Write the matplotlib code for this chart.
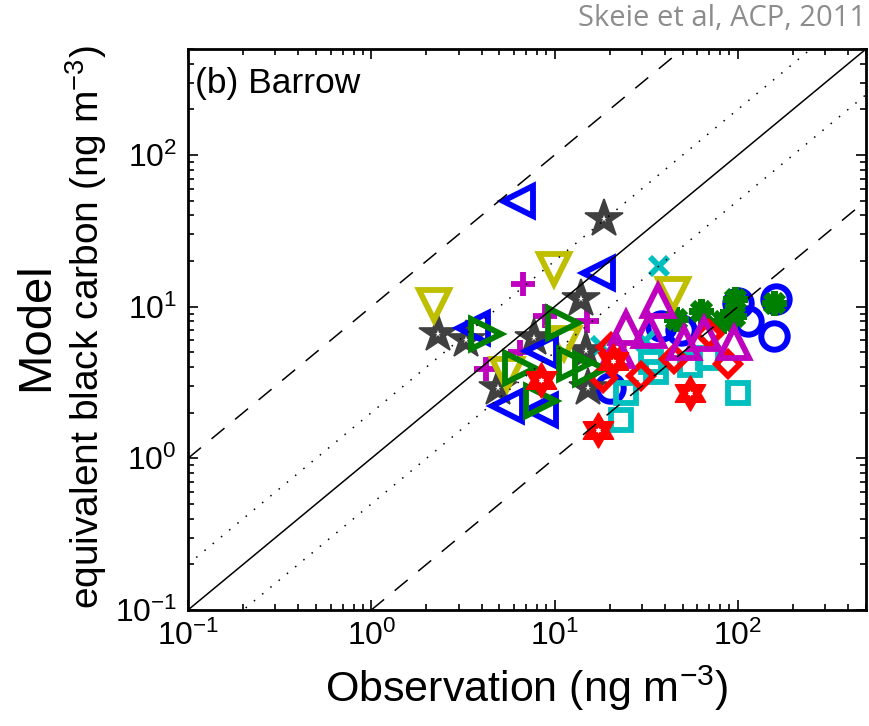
import numpy as np
import matplotlib
matplotlib.use("Agg")
import matplotlib.pyplot as plt
from matplotlib.path import Path
from matplotlib.ticker import LogLocator, NullFormatter

plt.rcParams['font.family'] = ['Liberation Sans', 'DejaVu Sans']
plt.rcParams['mathtext.fontset'] = 'custom'
plt.rcParams['mathtext.rm'] = 'Liberation Sans'
plt.rcParams['mathtext.it'] = 'Liberation Sans:italic'
plt.rcParams['mathtext.default'] = 'regular'

# ---- data (observation, model) per series ----
circ_obs = [20, 38, 49, 100, 113, 161, 157]
circ_mod = [2.9, 7.5, 7.0, 10.6, 8.1, 11.3, 6.4]

ast_obs = [46, 63, 83, 97, 95, 157]
ast_mod = [8.3, 9.4, 8.1, 11.3, 8.7, 10.5]

x_obs = [37, 18, 31]
x_mod = [18.6, 5.5, 5.9]

plus_obs = [6.7, 8.9, 15.1, 6.5, 4.2]
plus_mod = [14.2, 8.7, 8.1, 5.0, 3.9]

pent_obs = [18.5, 13.9, 7.7, 14.8, 4.9, 15.3, 2.3, 3.3]
pent_mod = [37.9, 11.3, 6.2, 5.1, 2.9, 2.9, 6.6, 6.0]

sq_obs = [23, 24.4, 35.6, 55, 68.5, 100, 33.5]
sq_mod = [1.78, 2.7, 3.7, 4.1, 4.6, 2.7, 4.3]

dia_obs = [88, 69.5, 44.7, 29.5, 20.2, 18.3]
dia_mod = [4.2, 6.6, 4.5, 3.5, 5.4, 3.4]

vdown_obs = [2.2, 9.9, 44, 5.5, 11.2]
vdown_mod = [10.2, 17.8, 12.2, 3.6, 5.8]

up_obs = [36.5, 24.4, 32.6, 22, 50.7, 65, 95]
up_mod = [10.9, 7.2, 6.95, 5.1, 5.8, 6.6, 5.8]

left_obs = [6.3, 17.2, 3.6, 8.4, 5.5, 8.4]
left_mod = [50, 16.7, 7.2, 5.1, 2.23, 2.07]

right_obs = [4.2, 11.1, 6.5, 12.7, 15.7, 8.4]
right_mod = [6.6, 7.85, 3.97, 4.2, 3.9, 2.4]

hex_obs = [8.4, 17.2, 55, 20.7]
hex_mod = [3.26, 1.53, 2.7, 4.4]

W, H = 869, 726
fig = plt.figure(figsize=(W / 100, H / 100), dpi=100)
ax = fig.add_axes([188 / W, 1 - 610 / H, (866 - 188) / W, (610 - 49) / H])

blue = (0, 0, 1)
green = (0, 0.5, 0)
red = (1, 0, 0)
cyan = (0, 0.75, 0.75)
mag = (0.75, 0, 0.75)
yel = (0.75, 0.75, 0)
gray = (0.25, 0.25, 0.25)

hexagram = Path.unit_regular_star(6, 0.577)

# (obs, model, marker, colour, size, edge width, filled)
series = [
    (circ_obs, circ_mod, 'o', blue, 19, 4.3, False),
    (ast_obs, ast_mod, (8, 2, 0), green, 18, 5.0, False),
    (x_obs, x_mod, 'x', cyan, 13, 4.2, False),
    (plus_obs, plus_mod, '+', mag, 17, 4.2, False),
    (pent_obs, pent_mod, '*', gray, 29, 1.2, True),
    (sq_obs, sq_mod, 's', cyan, 15, 4.2, False),
    (dia_obs, dia_mod, 'D', red, 12.5, 4.2, False),
    (vdown_obs, vdown_mod, 'v', yel, 21, 4.2, False),
    (up_obs, up_mod, '^', mag, 21, 4.2, False),
    (left_obs, left_mod, '<', blue, 21, 4.2, False),
    (right_obs, right_mod, '>', green, 21, 4.2, False),
    (hex_obs, hex_mod, hexagram, red, 25, 1.2, True),
]
for xo, ym, mk, col, ms, mw, filled in series:
    ax.plot(xo, ym, linestyle='none', marker=mk, markersize=ms,
            markerfacecolor=col if filled else 'none', markeredgecolor=col,
            markeredgewidth=mw, zorder=2)
    if filled:
        # small white hole in the centre of thick-outlined stars
        ax.plot(xo, ym, linestyle='none', marker=mk, markersize=ms * 0.18,
                markerfacecolor='white', markeredgecolor='white',
                markeredgewidth=0, zorder=2)

lx = np.array([0.1, 500])
ax.plot(lx, lx, color='k', lw=1.1, zorder=3)
ax.plot(lx, 2 * lx, color='k', lw=1.1, ls=(0, (1, 6)), zorder=3)
ax.plot(lx, lx / 2, color='k', lw=1.1, ls=(0, (1, 6)), zorder=3)
ax.plot(lx, 10 * lx, color='k', lw=1.1, ls=(0, (11, 9)), zorder=3)
ax.plot(lx, lx / 10, color='k', lw=1.1, ls=(0, (11, 9)), zorder=3)

ax.set_xscale('log')
ax.set_yscale('log')
ax.set_xlim(0.1, 500)
ax.set_ylim(0.1, 500)
for a in (ax.xaxis, ax.yaxis):
    a.set_major_locator(LogLocator(base=10, numticks=10))
    a.set_minor_locator(LogLocator(base=10, subs=np.arange(2, 10), numticks=10))
    a.set_minor_formatter(NullFormatter())
ax.tick_params(which='both', direction='in', top=True, right=True, width=1.2)
ax.tick_params(which='major', length=7, labelsize=23, pad=8)
ax.tick_params(which='minor', length=4)
for s in ax.spines.values():
    s.set_linewidth(2.0)

ax.text(195 / W, 1 - 84 / H, '(b) Barrow', transform=fig.transFigure,
        fontsize=25.5, ha='left', va='center')

fig.text(527 / W, 1 - 688 / H, 'Observation (ng m$^{-3}$)', fontsize=31,
         ha='center', va='center')
fig.text(36 / W, 1 - 327 / H, 'Model', fontsize=34, rotation=90,
         ha='center', va='center')
fig.text(86 / W, 1 - 327 / H, 'equivalent black carbon (ng m$^{-3}$)',
         fontsize=28, rotation=90, ha='center', va='center')
fig.text(866 / W, 1 - 4 / H, 'Skeie et al, ACP, 2011', fontsize=21,
         color='#8c8c8c', ha='right', va='top', family=['Open Sans', 'DejaVu Sans'])

fig.savefig('out.png', dpi=100)
